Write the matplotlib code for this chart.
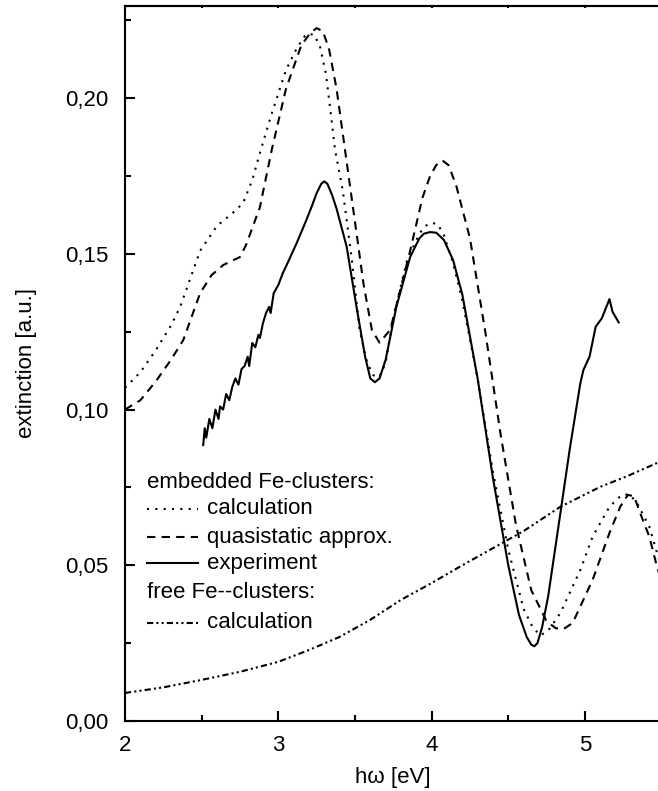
import numpy as np
import matplotlib
matplotlib.use("Agg")
import matplotlib.pyplot as plt
from matplotlib.ticker import MultipleLocator, FuncFormatter

plt.rcParams['font.family'] = ['Liberation Sans', 'DejaVu Sans']

# ---- data ----
# embedded Fe-clusters, calculation (dotted)
calc_x = [2.00, 2.10, 2.20, 2.30, 2.36, 2.49, 2.60, 2.70, 2.77, 2.83, 2.88, 2.95,
          3.05, 3.12, 3.18, 3.23, 3.27, 3.31, 3.34, 3.37, 3.42, 3.48, 3.53, 3.58, 3.62,
          3.66, 3.70, 3.75, 3.84, 3.92, 3.96, 4.00, 4.04, 4.08, 4.14, 4.20, 4.30, 4.40,
          4.50, 4.60, 4.66, 4.71, 4.76, 4.84, 4.97, 5.05, 5.16, 5.24, 5.29, 5.34, 5.42,
          5.47, 5.50]
calc_y = [0.107, 0.112, 0.119, 0.127, 0.133, 0.151, 0.159, 0.163, 0.1663, 0.1737, 0.1824, 0.194,
          0.209, 0.216, 0.2205, 0.2205, 0.217, 0.208, 0.196, 0.1834, 0.1705, 0.148, 0.1256, 0.115,
          0.111, 0.1105, 0.115, 0.1297, 0.148, 0.1565, 0.159, 0.160, 0.1595, 0.156, 0.147, 0.135,
          0.110, 0.080, 0.055, 0.036, 0.030, 0.0275, 0.029, 0.0347, 0.0485, 0.0592, 0.0688, 0.0726,
          0.0728, 0.070, 0.0624, 0.054, 0.049]

# embedded Fe-clusters, quasistatic approx. (dashed)
quasi_x = [2.00, 2.10, 2.20, 2.30, 2.38, 2.49, 2.565, 2.64, 2.75, 2.79, 2.88, 2.957,
           3.05, 3.15, 3.21, 3.25, 3.29, 3.33, 3.38, 3.435, 3.51, 3.555, 3.61, 3.66,
           3.73, 3.86, 3.94, 3.99, 4.03, 4.07, 4.11, 4.16, 4.25, 4.35, 4.45, 4.55,
           4.65, 4.75, 4.81, 4.86, 4.92, 5.05, 5.16, 5.23, 5.28, 5.32, 5.36, 5.42,
           5.47, 5.50]
quasi_y = [0.100, 0.103, 0.109, 0.116, 0.1223, 0.1374, 0.1432, 0.1464, 0.149, 0.1529, 0.165, 0.1834,
           0.203, 0.217, 0.221, 0.2225, 0.2215, 0.216, 0.203, 0.1834, 0.1567, 0.1406, 0.1256, 0.1215,
           0.1256, 0.151, 0.168, 0.175, 0.1785, 0.180, 0.1785, 0.172, 0.155, 0.125, 0.092, 0.063,
           0.042, 0.032, 0.0298, 0.0295, 0.0315, 0.0453, 0.0604, 0.0688, 0.0726, 0.0722, 0.0668, 0.0592,
           0.0495, 0.045]

# experiment (solid)
exp_x = [2.51, 2.52, 2.53, 2.55, 2.57, 2.59, 2.61, 2.62, 2.64, 2.66, 2.68, 2.70,
         2.72, 2.74, 2.76, 2.78, 2.80, 2.81, 2.83, 2.85, 2.87, 2.88, 2.90, 2.92,
         2.94, 2.95, 2.97, 3.00, 3.03, 3.06, 3.12, 3.18, 3.22, 3.25, 3.28, 3.30,
         3.32, 3.35, 3.38, 3.446, 3.51, 3.566, 3.60, 3.63, 3.66, 3.70, 3.77, 3.86,
         3.92, 3.95, 3.99, 4.03, 4.08, 4.14, 4.20, 4.30, 4.40, 4.50, 4.57, 4.62,
         4.65, 4.67, 4.69, 4.72, 4.76, 4.84, 4.90, 4.97, 4.99, 5.03, 5.07, 5.11,
         5.16, 5.18, 5.22]
exp_y = [0.0886, 0.094, 0.091, 0.097, 0.094, 0.100, 0.097, 0.101, 0.100, 0.105, 0.103, 0.1073,
         0.110, 0.108, 0.113, 0.114, 0.117, 0.114, 0.1214, 0.120, 0.124, 0.123, 0.1278, 0.131,
         0.133, 0.131, 0.1374, 0.140, 0.1439, 0.147, 0.1535, 0.1605, 0.1655, 0.1695, 0.1725, 0.1733,
         0.1725, 0.169, 0.1645, 0.1523, 0.133, 0.117, 0.1100, 0.1088, 0.1100, 0.1160, 0.133, 0.149,
         0.155, 0.1565, 0.157, 0.1568, 0.1545, 0.148, 0.137, 0.110, 0.078, 0.050, 0.034, 0.027,
         0.0245, 0.024, 0.025, 0.030, 0.040, 0.0668, 0.087, 0.1085, 0.1127, 0.117, 0.1266, 0.1293,
         0.1355, 0.1314, 0.128]

# free Fe-clusters, calculation (dash-dot-dot)
free_x = [2.00, 2.25, 2.50, 2.75, 3.00, 3.20, 3.40, 3.60, 3.80, 4.00, 4.20, 4.40,
          4.60, 4.84, 5.10, 5.27, 5.50]
free_y = [0.009, 0.0108, 0.0132, 0.0158, 0.019, 0.0228, 0.027, 0.0325, 0.0389, 0.0443, 0.050, 0.0555,
          0.061, 0.0688, 0.0752, 0.0785, 0.0835]

# ==========================================
# figure
# ==========================================
fig = plt.figure(figsize=(6.58, 7.91), dpi=100)
ax = fig.add_axes([125 / 658, 70 / 791, 536.6 / 658, 715 / 791])

lw = 1.5
ax.plot(calc_x, calc_y, color='black', lw=lw, linestyle=(0, (1, 3)))
ax.plot(quasi_x, quasi_y, color='black', lw=lw, linestyle=(0, (4, 3)))
ax.plot(exp_x, exp_y, color='black', lw=lw, linestyle='-')
ax.plot(free_x, free_y, color='black', lw=lw, linestyle=(0, (3, 1.5, 1, 1.5, 1, 1.5)))

ax.set_xlim(2, 5.5)
ax.set_ylim(0, 0.2296)

ax.xaxis.set_major_locator(MultipleLocator(1))
ax.xaxis.set_minor_locator(MultipleLocator(0.5))
ax.yaxis.set_major_locator(MultipleLocator(0.05))
ax.yaxis.set_minor_locator(MultipleLocator(0.025))
ax.yaxis.set_major_formatter(FuncFormatter(lambda v, _: f"{v:.2f}".replace('.', ',')))

ax.tick_params(axis='both', which='major', direction='in', length=7.5, width=1.5,
               labelsize=16, top=False, right=False)
ax.tick_params(axis='both', which='minor', direction='in', length=4.5, width=1.5,
               top=False, right=False)
ax.tick_params(axis='y', which='major', pad=12)
ax.tick_params(axis='x', which='major', pad=10)

for s in ax.spines.values():
    s.set_linewidth(1.5)

# tiny ticks on the top spine
sec = ax.secondary_xaxis('top')
sec.xaxis.set_major_locator(MultipleLocator(1))
sec.xaxis.set_minor_locator(MultipleLocator(0.5))
sec.tick_params(which='both', direction='in', length=1.5, width=1.5, labeltop=False)
sec.spines['top'].set_linewidth(1.5)

ax.set_xlabel("hω [eV]", fontsize=16, labelpad=8)
ax.set_ylabel("extinction [a.u.]", fontsize=16, labelpad=20)

# ---- hand-made legend ----
def yrow(py):
    return (721 - py) / 715

x_text = (146.7 - 125) / 536.6
x_l0 = x_text
x_l1 = (198 - 125) / 536.6
x_lab = (207 - 125) / 536.6

ax.text(x_text, yrow(482), "embedded Fe-clusters:", transform=ax.transAxes,
        fontsize=16, va='center', ha='left')
rows = [
    (509, (0, (1, 3)), "calculation"),
    (537, (0, (4, 3)), "quasistatic approx."),
    (563, '-', "experiment"),
]
for py, ls, lab in rows:
    ax.plot([x_l0, x_l1], [yrow(py), yrow(py)], transform=ax.transAxes,
            color='black', lw=lw, linestyle=ls)
    ax.text(x_lab, yrow(py), lab, transform=ax.transAxes, fontsize=16,
            va='center', ha='left')
ax.text(x_text, yrow(593), "free Fe--clusters:", transform=ax.transAxes,
        fontsize=16, va='center', ha='left')
ax.plot([x_l0, x_l1], [yrow(623), yrow(623)], transform=ax.transAxes,
        color='black', lw=lw, linestyle=(0, (3, 1.5, 1, 1.5, 1, 1.5)))
ax.text(x_lab, yrow(623), "calculation", transform=ax.transAxes, fontsize=16,
        va='center', ha='left')

fig.savefig("out.png", dpi=100)
